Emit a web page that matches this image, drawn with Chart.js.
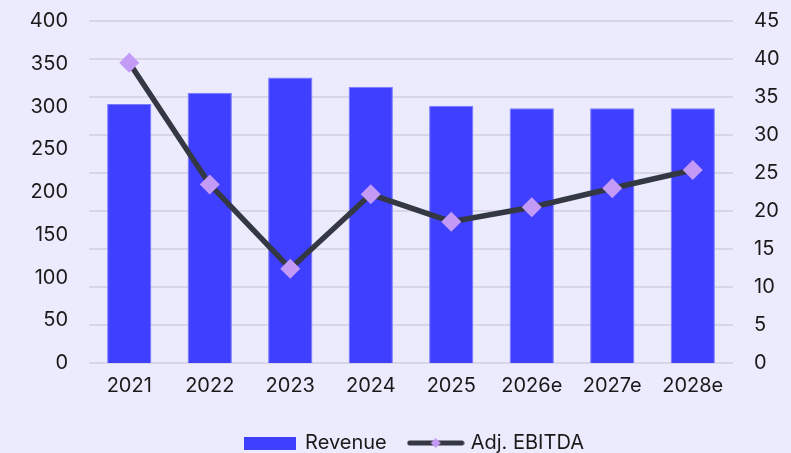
<!DOCTYPE html>
<html lang="en">

<head>
    <meta charset="UTF-8">
    <title>Revenue and Adj. EBITDA</title>
    <script src="https://cdn.jsdelivr.net/npm/chart.js"></script>
    <style>
        body {
            margin: 0;
            background-color: #eceafd;
        }

        #wrap {
            width: 791px;
            height: 453px;
        }
    </style>
</head>

<body>
    <div id="wrap"><canvas id="combo"></canvas></div>

    <script>
        // datos
        const years = ["2021", "2022", "2023", "2024", "2025", "2026e", "2027e", "2028e"];
        const revenue = [303, 316, 334, 323, 301, 298, 298, 298];
        const adjEbitda = [39.5, 23.5, 12.4, 22.2, 18.6, 20.5, 23.0, 25.4];
        const leftTicks = [0, 50, 100, 150, 200, 250, 300, 350, 400];
        const rightTicks = [0, 5, 10, 15, 20, 25, 30, 35, 40, 45];

        const fontFam = "Inter, 'Noto Sans', sans-serif";

        // simbolo de leyenda: linea con rombo
        function lineSymbol() {
            const c = document.createElement("canvas");
            c.width = 58;
            c.height = 14;
            const g = c.getContext("2d");
            g.strokeStyle = "#333843";
            g.lineWidth = 5;
            g.lineCap = "round";
            g.beginPath();
            g.moveTo(3, 7);
            g.lineTo(55, 7);
            g.stroke();
            g.fillStyle = "#c39bf7";
            g.beginPath();
            g.moveTo(29, 2);
            g.lineTo(34, 7);
            g.lineTo(29, 12);
            g.lineTo(24, 7);
            g.closePath();
            g.fill();
            return c;
        }

        function revSymbol() {
            const c = document.createElement("canvas");
            c.width = 52;
            c.height = 13;
            const g = c.getContext("2d");
            g.fillStyle = "#3f3fff";
            g.fillRect(0, 0, 52, 13);
            return c;
        }

        // la leyenda del original esta algo a la derecha del centro
        const moverLeyenda = {
            id: "moverLeyenda",
            afterLayout(chart) {
                chart.legend.left += 19;
                chart.legend.right += 19;
            }
        };

        new Chart(document.getElementById("combo"), {
            plugins: [moverLeyenda],
            data: {
                labels: years,
                datasets: [{
                    type: "line",
                    label: "Adj. EBITDA",
                    data: adjEbitda,
                    yAxisID: "y1",
                    borderColor: "#333843",
                    borderWidth: 5.5,
                    pointStyle: "rectRot",
                    pointRadius: 10,
                    pointHoverRadius: 10,
                    pointBorderWidth: 0,
                    pointBackgroundColor: "#c39bf7",
                    tension: 0,
                    order: 0
                }, {
                    type: "bar",
                    label: "Revenue",
                    data: revenue,
                    yAxisID: "y",
                    backgroundColor: "#3f3fff",
                    borderColor: "#7b7bff",
                    borderWidth: 1,
                    categoryPercentage: 1,
                    barPercentage: 0.55,
                    order: 1
                }]
            },
            options: {
                responsive: true,
                maintainAspectRatio: false,
                animation: false,
                layout: {
                    padding: { left: 0, right: 0, top: 21, bottom: -10 }
                },
                plugins: {
                    tooltip: { enabled: false },
                    legend: {
                        position: "bottom",
                        reverse: true,
                        labels: {
                            color: "#1a1a1a",
                            font: { family: fontFam, size: 20 },
                            usePointStyle: true,
                            pointStyleWidth: 50,
                            boxHeight: 14,
                            padding: 24,
                            generateLabels: (chart) => {
                                const items = Chart.defaults.plugins.legend.labels.generateLabels(chart);
                                items.forEach(it => {
                                    it.pointStyle = it.text === "Revenue" ? revSymbol() : lineSymbol();
                                });
                                return items;
                            }
                        }
                    }
                },
                scales: {
                    x: {
                        grid: { display: false, drawTicks: false },
                        border: { display: false },
                        afterFit: (axis) => { axis.height = 46; },
                        ticks: {
                            color: "#1a1a1a",
                            font: { family: fontFam, size: 20 },
                            padding: 11
                        }
                    },
                    y: {
                        position: "left",
                        min: 0,
                        max: 400,
                        afterBuildTicks: (axis) => {
                            axis.ticks = leftTicks.map(v => ({ value: v }));
                        },
                        afterFit: (axis) => { axis.width = 89; axis.paddingTop = 0; },
                        grid: { display: false, drawTicks: false },
                        border: { display: false },
                        ticks: {
                            color: "#1a1a1a",
                            font: { family: fontFam, size: 20 },
                            padding: 21
                        }
                    },
                    y1: {
                        position: "right",
                        min: 0,
                        max: 45,
                        afterBuildTicks: (axis) => {
                            axis.ticks = rightTicks.map(v => ({ value: v }));
                        },
                        afterFit: (axis) => { axis.width = 58; axis.paddingTop = 0; },
                        grid: { color: "#d8d6e6", lineWidth: 2, drawTicks: false },
                        border: { display: false },
                        ticks: {
                            color: "#1a1a1a",
                            font: { family: fontFam, size: 20 },
                            padding: 21
                        }
                    }
                }
            }
        });
    </script>
</body>

</html>
